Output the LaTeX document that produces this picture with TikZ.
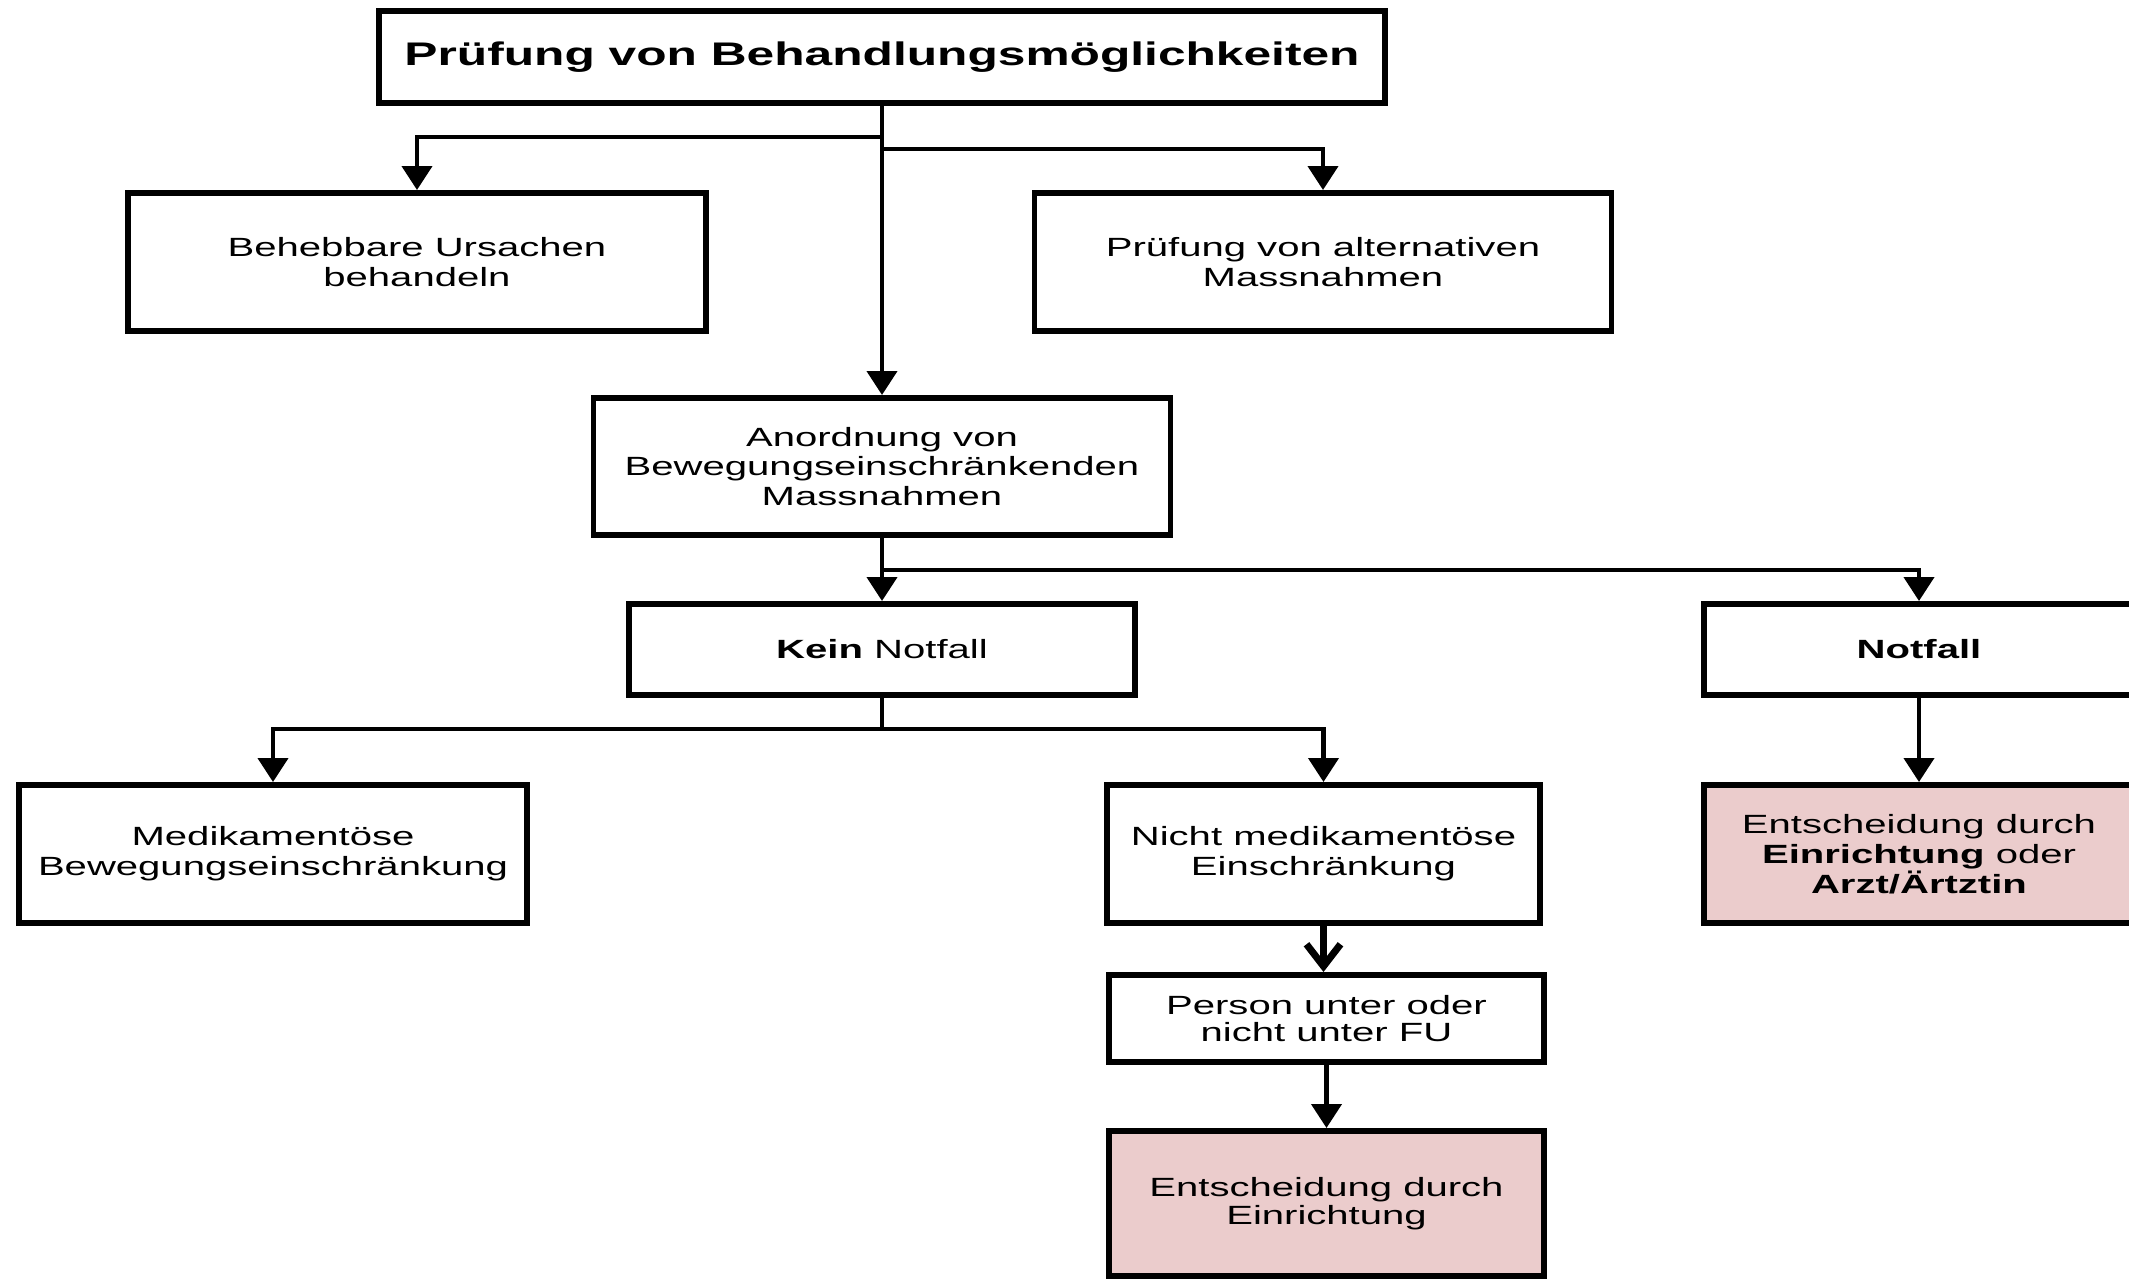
\documentclass[tikz,border=0pt]{standalone}
\usepackage{fontspec}
\setmainfont{Liberation Sans}[FakeStretch=1.52]
\usepackage{tikz}
\usetikzlibrary{arrows.meta}
\usetikzlibrary{positioning}
\definecolor{entscheidrosa}{RGB}{235,204,204}

\tikzset{
  kasten/.style={draw, line width=1.7pt, fill=white, align=center,
    inner sep=0pt, font=\fontsize{7.5}{8.5}\selectfont},
  entscheid/.style={kasten, fill=entscheidrosa},
  pfeil/.style={line width=1.2pt, -{Triangle[width=0.3cm,length=0.24cm]}},
  offenpfeil/.style={line width=2pt, -{Straight Barb[width=0.34cm,length=0.22cm]}}
}

\begin{document}
\begin{tikzpicture}
\useasboundingbox (0,0) rectangle (21.29,12.81);
\node[kasten, minimum width=10.06cm, minimum height=0.92cm,
  font=\fontsize{9.3}{10}\selectfont\bfseries]
  (pruefung) at (8.82,12.24) {Prüfung von Behandlungsmöglichkeiten};
\node[kasten, minimum width=5.78cm, minimum height=1.38cm]
  (ursachen) at (4.17,10.19) {Behebbare Ursachen\\behandeln};
\node[kasten, minimum width=5.77cm, minimum height=1.38cm]
  (alternativ) at (13.23,10.19) {Prüfung von alternativen\\Massnahmen};
\node[kasten, minimum width=5.77cm, minimum height=1.37cm]
  (anordnung) at (8.82,8.145) {Anordnung von\\Bewegungseinschränkenden\\Massnahmen};
\node[kasten, minimum width=5.06cm, minimum height=0.91cm]
  (keinnot) at (8.82,6.315) {\textbf{Kein} Notfall};
\node[kasten, minimum width=4.30cm, minimum height=0.91cm]
  (notfall) at (19.19,6.315) {\textbf{Notfall}};
\node[kasten, minimum width=5.08cm, minimum height=1.38cm]
  (medikament) at (2.73,4.27) {Medikamentöse\\Bewegungseinschränkung};
\node[kasten, minimum width=4.33cm, minimum height=1.38cm]
  (nichtmedi) at (13.235,4.27) {Nicht medikamentöse\\Einschränkung};
\node[entscheid, minimum width=4.30cm, minimum height=1.38cm]
  (arzt) at (19.19,4.27) {Entscheidung durch\\\textbf{Einrichtung} oder\\\textbf{Arzt/Ärtztin}};
\node[kasten, minimum width=4.35cm, minimum height=0.87cm,
  font=\fontsize{7.5}{7.8}\selectfont]
  (person) at (13.265,2.625) {Person unter oder\\nicht unter FU};
\node[entscheid, minimum width=4.35cm, minimum height=1.45cm,
  font=\fontsize{7.5}{7.8}\selectfont]
  (einrichtung) at (13.265,0.775) {Entscheidung durch\\Einrichtung};
\path
  coordinate (abzweigl) at (8.82,11.44)
  coordinate (abzweigr) at (8.82,11.32)
  coordinate (abzweign) at (8.82,7.11)
  coordinate (abzweigk) at (8.82,5.52)
  ;
\draw[pfeil] (pruefung.south) -- (abzweigl) -| (ursachen.north);
\draw[pfeil] (abzweigr) -| (alternativ.north);
\draw[pfeil] (pruefung.south) -- (anordnung.north);
\draw[pfeil] (anordnung.south) -- (keinnot.north);
\draw[pfeil] (abzweign) -| (notfall.north);
\draw[pfeil] (keinnot.south) -- (abzweigk) -| (medikament.north);
\draw[pfeil] (abzweigk) -| (nichtmedi.north);
\draw[pfeil] (notfall.south) -- (arzt.north);
\draw[offenpfeil] (nichtmedi.south) -- (nichtmedi.south |- person.north);
\draw[pfeil] (person.south) -- (einrichtung.north);
\end{tikzpicture}
\end{document}
